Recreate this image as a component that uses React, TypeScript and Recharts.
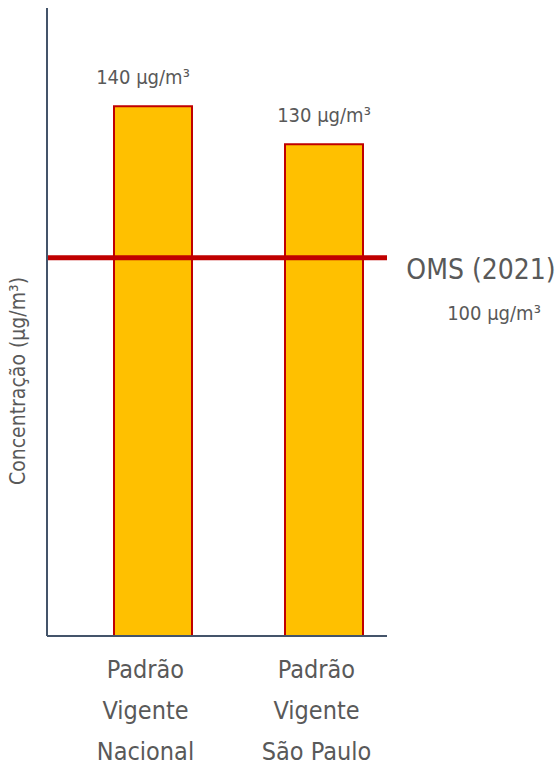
import { BarChart, Bar, XAxis, YAxis, ReferenceLine, LabelList } from "recharts";

const CATEGORIES = ["Padrão\nVigente\nNacional", "Padrão\nVigente\nSão Paulo"];
const VALUES = [140, 130];
const WHO_LIMIT = 100;
const WHO_LABEL = "OMS (2021)";
const UNIT = "µg/m³";
const Y_LABEL = "Concentração (µg/m³)";
const Y_MAX = 166;

const FONT = '"DejaVu Sans Condensed", "DejaVu Sans", sans-serif';
const TEXT = "#595959";
const AXIS = "#44546A";
const txtStyle = { fontStretch: "condensed" as const };

const data = CATEGORIES.map((name, i) => ({ name, value: VALUES[i] }));

// three-line category names under each bar
function CategoryTick({ x, y, payload }: any) {
  const lines = String(payload.value).split("\n");
  return (
    <text x={x - 7} y={y} textAnchor="middle" fill={TEXT} fontSize={25} fontFamily={FONT} style={txtStyle}>
      {lines.map((line, i) => (
        <tspan key={i} x={x - 7} dy={i === 0 ? 34 : 41}>
          {line}
        </tspan>
      ))}
    </text>
  );
}

function ValueLabel({ x, y, width, value, index }: any) {
  const dx = index === 0 ? -10 : 0;
  return (
    <text
      x={x + width / 2 + dx}
      y={y - 22}
      textAnchor="middle"
      fill={TEXT}
      fontSize={20}
      fontFamily={FONT}
      style={txtStyle}
    >
      {`${value} ${UNIT}`}
    </text>
  );
}

function LimitLabel({ viewBox }: any) {
  const cx = viewBox.x + viewBox.width + 94;
  const cy = viewBox.y;
  return (
    <g fontFamily={FONT} fill={TEXT} textAnchor="middle" style={txtStyle}>
      <text x={cx} y={cy + 21} fontSize={28}>
        {WHO_LABEL}
      </text>
      <text x={cx + 13} y={cy + 62} fontSize={20}>
        {`${WHO_LIMIT} ${UNIT}`}
      </text>
    </g>
  );
}

function AxisTitle() {
  return (
    <text
      x={0}
      y={0}
      transform="translate(25, 381) rotate(-90)"
      textAnchor="middle"
      fill={TEXT}
      fontSize={21}
      fontFamily={FONT}
      style={txtStyle}
    >
      {Y_LABEL}
    </text>
  );
}

export default function App() {
  return (
    <div style={{ position: "absolute", left: 0, top: 0, width: 560, height: 770, background: "#fff" }}>
      <BarChart
        width={560}
        height={770}
        data={data}
        margin={{ top: 8, right: 173, bottom: 0, left: 46 }}
      >
        <XAxis
          dataKey="name"
          axisLine={{ stroke: AXIS, strokeWidth: 2 }}
          tickLine={false}
          tick={<CategoryTick />}
          interval={0}
          padding={{ left: 20, right: -22 }}
          height={134}
        />
        <YAxis
          domain={[0, Y_MAX]}
          width={1}
          tick={false}
          tickLine={false}
          axisLine={{ stroke: AXIS, strokeWidth: 2 }}
          label={<AxisTitle />}
        />
        <Bar
          dataKey="value"
          barSize={78}
          fill="#FFC000"
          stroke="#C00000"
          strokeWidth={2}
          isAnimationActive={false}
        >
          <LabelList dataKey="value" content={<ValueLabel />} />
        </Bar>
        <ReferenceLine
          y={WHO_LIMIT}
          stroke="#C00000"
          strokeWidth={5}
          label={<LimitLabel />}
        />
      </BarChart>
    </div>
  );
}
